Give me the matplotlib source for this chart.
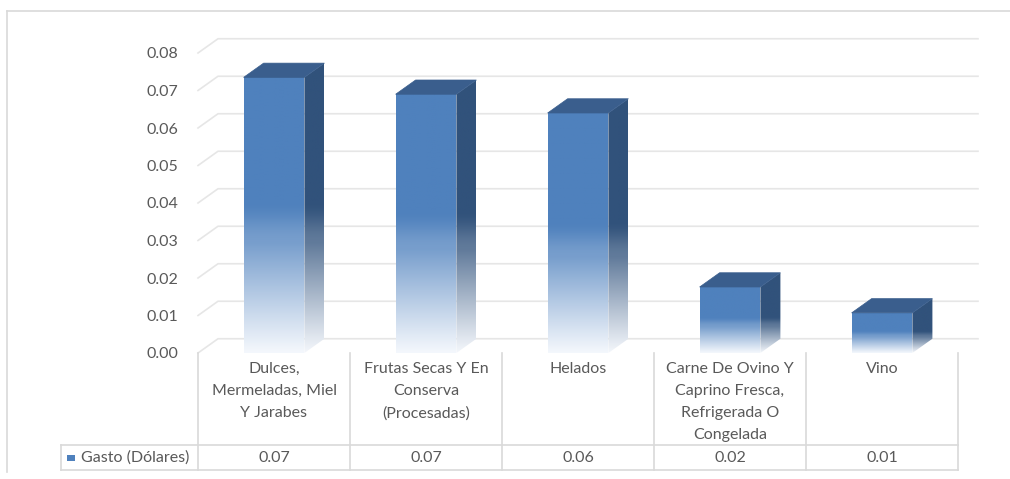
import numpy as np
import matplotlib
matplotlib.use("Agg")
import matplotlib.pyplot as plt
from matplotlib.patches import Polygon, Rectangle
from matplotlib.lines import Line2D

# ---------------- data ----------------
categories = [
    "Dulces,\nMermeladas, Miel\nY Jarabes",
    "Frutas Secas Y En\nConserva\n(Procesadas)",
    "Helados",
    "Carne De Ovino Y\nCaprino Fresca,\nRefrigerada O\nCongelada",
    "Vino",
]
values = [0.0735, 0.0690, 0.0640, 0.0176, 0.0107]
table_values = ["0.07", "0.07", "0.06", "0.02", "0.01"]
series_name = "Gasto (Dólares)"
yticks = [0.00, 0.01, 0.02, 0.03, 0.04, 0.05, 0.06, 0.07, 0.08]

# ---------------- style ----------------
plt.rcParams['font.family'] = ['Lato', 'DejaVu Sans']
TXT = '#595959'
GRID = '#E6E6E6'
LINE = '#D9D9D9'
FRONT = np.array([79, 129, 189]) / 255
SIDE = np.array([49, 82, 123]) / 255
TOP = np.array([58, 94, 141]) / 255
WHITE = np.array([0.97, 0.98, 0.995])
FS = 11.5

W, H = 1010, 479
fig = plt.figure(figsize=(W / 100, H / 100), dpi=100)
fig.patch.set_facecolor('white')

def fxp(px):
    return px / W

def fyp(py):
    return 1 - py / H

ax = fig.add_axes([fxp(198), fyp(353), fxp(958) - fxp(198), fyp(53) - fyp(353)])
ax.set_xlim(0, len(categories))
ax.set_ylim(0, 0.08)
for s in ax.spines.values():
    s.set_visible(False)
ax.set_xticks([])
ax.set_yticks(yticks)
ax.set_yticklabels([f"{v:.2f}" for v in yticks])
ax.tick_params(axis='y', length=0, pad=14, labelcolor=TXT, labelsize=FS)
ax.patch.set_alpha(0)

# depth of the 3D box (category units, value units)
DX = 20 / 152
DY = 0.0038
n = len(categories)

# back wall gridlines + side wall diagonals
for v in yticks:
    ax.plot([0, DX, n + DX], [v, v + DY, v + DY], color=GRID, lw=1.2,
            clip_on=False, zorder=1)


def alpha_of(t):
    if t >= 0.55:
        return 1.0
    if t >= 0.40:
        u = (t - 0.40) / 0.15
        return 0.76 + 0.24 * (u * u * (3 - 2 * u))
    return 0.02 + 0.74 * (t / 0.40) ** 1.05


def grad_img(base, vmax, ymax, N=256):
    ys = np.linspace(0, ymax, N)
    t = np.clip(ys / vmax, 0, 1)
    out = np.zeros((N, 1, 4))
    for k, tt in enumerate(t):
        a = alpha_of(tt)
        out[k, 0, :3] = base * a + WHITE * (1 - a)
        out[k, 0, 3] = 1
    return out


hw = 0.2
for i, v in enumerate(values):
    c = i + 0.5
    x0, x1 = c - hw, c + hw
    # side face
    side = Polygon([(x1, 0), (x1 + DX, DY), (x1 + DX, v + DY), (x1, v)],
                   closed=True, facecolor='none', edgecolor='none')
    ax.add_patch(side)
    im = ax.imshow(grad_img(SIDE, v, v + DY), extent=[x1, x1 + DX, 0, v + DY],
                   origin='lower', aspect='auto', zorder=3, interpolation='bilinear')
    im.set_clip_path(side)
    # front face
    front = Polygon([(x0, 0), (x1, 0), (x1, v), (x0, v)], closed=True,
                    facecolor='none', edgecolor='none')
    ax.add_patch(front)
    im2 = ax.imshow(grad_img(FRONT, v, v), extent=[x0, x1, 0, v],
                    origin='lower', aspect='auto', zorder=4, interpolation='bilinear')
    im2.set_clip_path(front)
    # top face
    top = Polygon([(x0, v), (x1, v), (x1 + DX, v + DY), (x0 + DX, v + DY)],
                  closed=True, facecolor=TOP, edgecolor=TOP, lw=0.5, zorder=5)
    ax.add_patch(top)

ax.set_xlim(0, n)
ax.set_ylim(0, 0.08)

# ---------------- data table ----------------
tr = ax.get_xaxis_transform()

def ay(py):
    return (353 - py) / 300

def xd(px):
    return (px - 198) / 152

for k in range(n + 1):
    ax.add_line(Line2D([k, k], [ay(353), ay(470)], transform=tr, color=LINE,
                       lw=1.2, clip_on=False))
for py in (445, 470):
    ax.add_line(Line2D([xd(61), n], [ay(py), ay(py)], transform=tr, color=LINE,
                       lw=1.2, clip_on=False))
ax.add_line(Line2D([xd(61), xd(61)], [ay(445), ay(470)], transform=tr,
                   color=LINE, lw=1.2, clip_on=False))

for i, (lab, tv) in enumerate(zip(categories, table_values)):
    ax.text(i + 0.5, ay(362), lab, transform=tr, ha='center', va='top',
            color=TXT, fontsize=FS, linespacing=1.72, clip_on=False)
    ax.text(i + 0.5, ay(458), tv, transform=tr, ha='center', va='center',
            color=TXT, fontsize=FS, clip_on=False)

# legend key
ax.add_patch(Rectangle((xd(67), ay(461)), xd(75) - xd(67), ay(455) - ay(461),
                       transform=tr, facecolor=FRONT, edgecolor='none',
                       clip_on=False))
ax.text(xd(81), ay(458), series_name, transform=tr, ha='left', va='center',
        color=TXT, fontsize=FS, clip_on=False)

# outer chart border
fig.add_artist(Line2D([fxp(7), fxp(7)], [fyp(11), fyp(472)], transform=fig.transFigure,
                      color=LINE, lw=1.2))
fig.add_artist(Line2D([fxp(7), fxp(1010)], [fyp(11), fyp(11)], transform=fig.transFigure,
                      color=LINE, lw=1.2))

fig.savefig('out.png', dpi=100, facecolor='white')
